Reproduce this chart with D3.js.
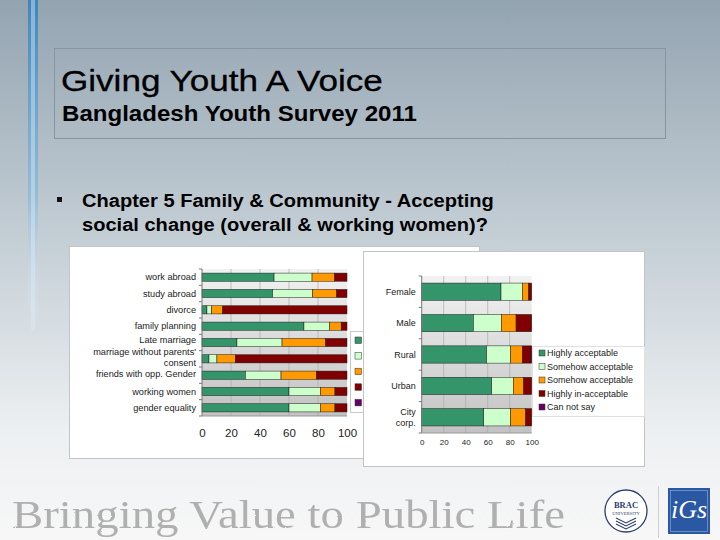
<!DOCTYPE html>
<html>
<head>
<meta charset="utf-8">
<script src="https://cdn.jsdelivr.net/npm/d3@7"></script>
<style>
  body { margin: 0; background: #fff; }
  svg { display: block; font-family: Arial, "Liberation Sans", sans-serif; }
</style>
</head>
<body>
<svg width="720" height="540"></svg>
<script>
// answer categories (series keys) and colours
var keys = ["Highly acceptable", "Somehow acceptable", "Somehow acceptable ", "Highly in-acceptable", "Can not say"];
var colors = ["#35956a", "#ccffcc", "#ff9900", "#800000", "#660066"];

// left chart: overall, by issue
var leftCats = ["work abroad", "study abroad", "divorce", "family planning", "Late marriage",
  "marriage without parents' consent", "friends with opp. Gender", "working women", "gender equality"];
var leftHighly   = [49.7, 48.7, 3.4, 70.3, 24.1, 4.8, 29.9, 60.0, 60.0];
var leftSomeAcc  = [26.2, 27.6, 3.3, 17.7, 31.1, 5.5, 24.6, 21.6, 21.6];
var leftSomeIn   = [15.6, 16.6, 7.6, 8.0, 30.1, 12.7, 24.5, 10.1, 10.1];
var leftHighIn   = [8.5, 7.1, 85.7, 4.0, 14.2, 77.0, 21.0, 8.3, 8.3];
var leftCannot   = [0, 0, 0, 0, 0.5, 0, 0, 0, 0];

// right chart: working women, by group
var rightCats = ["Female", "Male", "Rural", "Urban", "City corp."];
var rightHighly  = [72.1, 47.0, 59.0, 63.6, 56.4];
var rightSomeAcc = [19.4, 25.4, 21.9, 19.7, 24.5];
var rightSomeIn  = [5.8, 13.4, 10.6, 9.4, 13.6];
var rightHighIn  = [2.7, 14.2, 7.9, 7.3, 5.5];
var rightCannot  = [0, 0, 0.6, 0, 0];

var ticks = [0, 20, 40, 60, 80, 100];

var svg = d3.select("svg");
var defs = svg.append("defs");

// slide background
var bg = defs.append("linearGradient").attr("id", "bg").attr("x1", 0).attr("y1", 0).attr("x2", 0).attr("y2", 1);
bg.append("stop").attr("offset", "0%").attr("stop-color", "#93a4b1");
bg.append("stop").attr("offset", "45%").attr("stop-color", "#c5cfd6");
bg.append("stop").attr("offset", "80%").attr("stop-color", "#edf0f2");
bg.append("stop").attr("offset", "100%").attr("stop-color", "#f7f7f7");

var stripe = defs.append("linearGradient").attr("id", "stripe").attr("x1", 0).attr("y1", 0).attr("x2", 0).attr("y2", 1);
stripe.append("stop").attr("offset", "0%").attr("stop-color", "#3f86bb").attr("stop-opacity", 1);
stripe.append("stop").attr("offset", "60%").attr("stop-color", "#7fb6dc").attr("stop-opacity", 0.6);
stripe.append("stop").attr("offset", "100%").attr("stop-color", "#ffffff").attr("stop-opacity", 0);

var plotbg = defs.append("linearGradient").attr("id", "plotbg").attr("x1", 0).attr("y1", 0).attr("x2", 0).attr("y2", 1);
plotbg.append("stop").attr("offset", "0%").attr("stop-color", "#f2f2f2");
plotbg.append("stop").attr("offset", "100%").attr("stop-color", "#c2c2c2");

var rough = defs.append("filter").attr("id", "rough");
rough.append("feTurbulence").attr("type", "fractalNoise").attr("baseFrequency", 0.9).attr("numOctaves", 2).attr("result", "n");
rough.append("feDisplacementMap").attr("in", "SourceGraphic").attr("in2", "n").attr("scale", 1.6);

svg.append("rect").attr("width", 720).attr("height", 540).attr("fill", "url(#bg)");
svg.append("rect").attr("x", 28).attr("y", 0).attr("width", 10).attr("height", 330).attr("fill", "url(#stripe)");
svg.append("rect").attr("x", 31).attr("y", 0).attr("width", 4).attr("height", 330).attr("fill", "#dcecf7").attr("opacity", 0.45);

// title box
svg.append("rect").attr("x", 54.5).attr("y", 48.5).attr("width", 611).attr("height", 90)
  .attr("fill", "none").attr("stroke", "#85949f");
svg.append("text").attr("transform", "translate(61,91) scale(1.17,1)")
  .attr("font-size", 30).attr("fill", "#000").attr("stroke", "#000").attr("stroke-width", 0.3)
  .text("Giving Youth A Voice");
svg.append("text").attr("transform", "translate(62,121) scale(1.12,1)")
  .attr("font-size", 21.5).attr("font-weight", "bold").attr("fill", "#000").text("Bangladesh Youth Survey 2011");

// bullet
svg.append("rect").attr("x", 57).attr("y", 197).attr("width", 5).attr("height", 5).attr("fill", "#111");
var bullet = svg.append("text").attr("transform", "translate(82,0) scale(1.085,1)")
  .attr("font-size", 18.5).attr("font-weight", "bold").attr("fill", "#000");
bullet.append("tspan").attr("x", 0).attr("y", 207).text("Chapter 5 Family & Community - Accepting");
bullet.append("tspan").attr("x", 0).attr("y", 231).text("social change (overall & working women)?");

function rowsOf(cats, arrays) {
  return cats.map(function(c, i) {
    var o = { cat: c };
    keys.forEach(function(k, j) { o[k] = arrays[j][i]; });
    return o;
  });
}

function drawChart(opt) {
  var g = svg.append("g");
  var x = d3.scaleLinear().domain([0, 100]).range(opt.xr);
  var y = d3.scaleBand().domain(opt.cats).range(opt.yr).paddingInner(opt.pad).paddingOuter(opt.pad / 2);
  var stack = d3.stack().keys(keys)(rowsOf(opt.cats, opt.values));

  g.append("rect").attr("x", opt.xr[0]).attr("y", opt.yr[0])
    .attr("width", opt.xr[1] - opt.xr[0]).attr("height", opt.yr[1] - opt.yr[0])
    .attr("fill", "url(#plotbg)");

  g.selectAll(".grid").data(ticks.slice(1, -1)).enter().append("line")
    .attr("x1", x).attr("x2", x).attr("y1", opt.yr[0]).attr("y2", opt.yr[1])
    .attr("stroke", "#aaaaaa").attr("stroke-width", 0.7);

  g.selectAll(".series").data(stack).enter().append("g")
    .attr("fill", function(d, i) { return colors[i]; })
    .selectAll("rect").data(function(d) { return d; }).enter().append("rect")
      .attr("x", function(d) { return x(d[0]); })
      .attr("width", function(d) { return Math.max(0, x(d[1]) - x(d[0])); })
      .attr("y", function(d) { return y(d.data.cat); })
      .attr("height", y.bandwidth())
      .attr("stroke", "#1a1a1a").attr("stroke-width", 0.5);

  // y axis: line and ticks at band boundaries, labels right-aligned
  var ya = g.append("g").attr("transform", "translate(" + opt.xr[0] + ",0)");
  ya.append("line").attr("y1", opt.yr[0]).attr("y2", opt.yr[1]).attr("stroke", "#777");
  var step = y.step();
  ya.selectAll(".tk").data(d3.range(opt.cats.length + 1)).enter().append("line")
    .attr("x1", -3).attr("x2", 0)
    .attr("y1", function(i) { return opt.yr[0] + i * step; })
    .attr("y2", function(i) { return opt.yr[0] + i * step; })
    .attr("stroke", "#777");
  g.append("line").attr("x1", opt.xr[0]).attr("x2", opt.xr[1]).attr("y1", opt.yr[1]).attr("y2", opt.yr[1])
    .attr("stroke", "#999");

  opt.cats.forEach(function(c) {
    var lines = (opt.wrap[c] || [c]);
    var cy = y(c) + y.bandwidth() / 2 + (opt.shift[c] || 0);
    var t = g.append("text").attr("text-anchor", "end").attr("font-size", opt.labelSize).attr("fill", "#222");
    lines.forEach(function(l, i) {
      t.append("tspan").attr("x", opt.xr[0] - 6)
        .attr("y", cy + 3 + (i - (lines.length - 1) / 2) * opt.lineGap).text(l);
    });
  });

  g.append("g").attr("transform", "translate(0," + opt.tickY + ")")
    .call(d3.axisBottom(x).tickValues(ticks).tickSize(0).tickPadding(0))
    .call(function(a) { a.select(".domain").remove(); })
    .selectAll("text").attr("font-size", opt.tickSize).attr("fill", "#222")
      .attr("font-family", "Arial, 'Liberation Sans', sans-serif");
  return g;
}

// left panel
svg.append("rect").attr("x", 69.5).attr("y", 246.5).attr("width", 410).attr("height", 212)
  .attr("fill", "#fff").attr("stroke", "#c4c4c4");

drawChart({
  cats: leftCats,
  values: [leftHighly, leftSomeAcc, leftSomeIn, leftHighIn, leftCannot],
  xr: [202, 347], yr: [269, 416], pad: 0.5,
  labelSize: 9.2, lineGap: 11, tickSize: 11.5, tickY: 429,
  wrap: { "marriage without parents' consent": ["marriage without parents'", "consent"] },
  shift: { "Late marriage": -2.5, "marriage without parents' consent": -1, "friends with opp. Gender": -1 }
});

// left legend (squares only, text hidden by right panel)
var ll = svg.append("g");
ll.append("rect").attr("x", 350.5).attr("y", 331.5).attr("width", 30).attr("height", 81)
  .attr("fill", "#fff").attr("stroke", "#c8c8c8");
ll.selectAll(".sq").data(colors).enter().append("rect")
  .attr("x", 355).attr("y", function(d, i) { return 337 + i * 15.6; })
  .attr("width", 6.5).attr("height", 6.5)
  .attr("fill", function(d) { return d; }).attr("stroke", "#333").attr("stroke-width", 0.5);

// right panel
svg.append("rect").attr("x", 363.5).attr("y", 251.5).attr("width", 281).attr("height", 215)
  .attr("fill", "#fff").attr("stroke", "#c4c4c4");

drawChart({
  cats: rightCats,
  values: [rightHighly, rightSomeAcc, rightSomeIn, rightHighIn, rightCannot],
  xr: [421.7, 531.7], yr: [276, 433], pad: 0.45,
  labelSize: 9, lineGap: 11, tickSize: 8, tickY: 439,
  wrap: { "City corp.": ["City", "corp."] },
  shift: {}
});

// right legend
var rl = svg.append("g");
rl.append("rect").attr("x", 532.5).attr("y", 346.5).attr("width", 112).attr("height", 70)
  .attr("fill", "#fff").attr("stroke", "#e0e0e0");
var items = rl.selectAll(".it").data(keys).enter().append("g")
  .attr("transform", function(d, i) { return "translate(539," + (353 + i * 13.5) + ")"; });
items.append("rect").attr("x", 0).attr("y", -3).attr("width", 6).attr("height", 6)
  .attr("fill", function(d, i) { return colors[i]; }).attr("stroke", "#333").attr("stroke-width", 0.5);
items.append("text").attr("x", 8).attr("y", 3.2).attr("font-size", 9).attr("fill", "#222")
  .text(function(d) { return d.trim(); });

// footer
svg.append("text").attr("x", 12).attr("y", 528).attr("font-family", "'Liberation Serif', 'DejaVu Serif', serif")
  .attr("font-size", 41).attr("fill", "#b0b0b0").attr("textLength", 553).attr("lengthAdjust", "spacingAndGlyphs")
  .attr("filter", "url(#rough)")
  .text("Bringing Value to Public Life");

var brac = svg.append("g").attr("transform", "translate(626,511)");
brac.append("circle").attr("r", 21).attr("fill", "#fff").attr("stroke", "#2e3d6e").attr("stroke-width", 1.3);
brac.append("text").attr("y", -3).attr("text-anchor", "middle").attr("font-size", 8.5).attr("font-weight", "bold")
  .attr("font-family", "'Liberation Serif', serif").attr("fill", "#2e3d6e").text("BRAC");
brac.append("text").attr("y", 4).attr("text-anchor", "middle").attr("font-size", 4.6)
  .attr("font-family", "'Liberation Serif', serif").attr("fill", "#2e3d6e").text("UNIVERSITY");
[0, 3, 6].forEach(function(o) {
  brac.append("path").attr("d", "M-10," + (7 + o) + " L0," + (12 + o) + " L10," + (7 + o))
    .attr("fill", "none").attr("stroke", "#2e3d6e").attr("stroke-width", 1.1);
});
svg.append("line").attr("x1", 658.5).attr("x2", 658.5).attr("y1", 486).attr("y2", 538).attr("stroke", "#d0d0d0");
svg.append("rect").attr("x", 668).attr("y", 488).attr("width", 42).attr("height", 46).attr("fill", "#2b58a3");
svg.append("rect").attr("x", 670.5).attr("y", 490.5).attr("width", 37).attr("height", 41)
  .attr("fill", "none").attr("stroke", "#8fb0e0").attr("stroke-width", 0.6);
svg.append("text").attr("x", 689).attr("y", 518).attr("text-anchor", "middle").attr("font-size", 26)
  .attr("font-style", "italic").attr("font-family", "'Liberation Serif', serif").attr("fill", "#fff").text("iGs");
</script>
</body>
</html>
